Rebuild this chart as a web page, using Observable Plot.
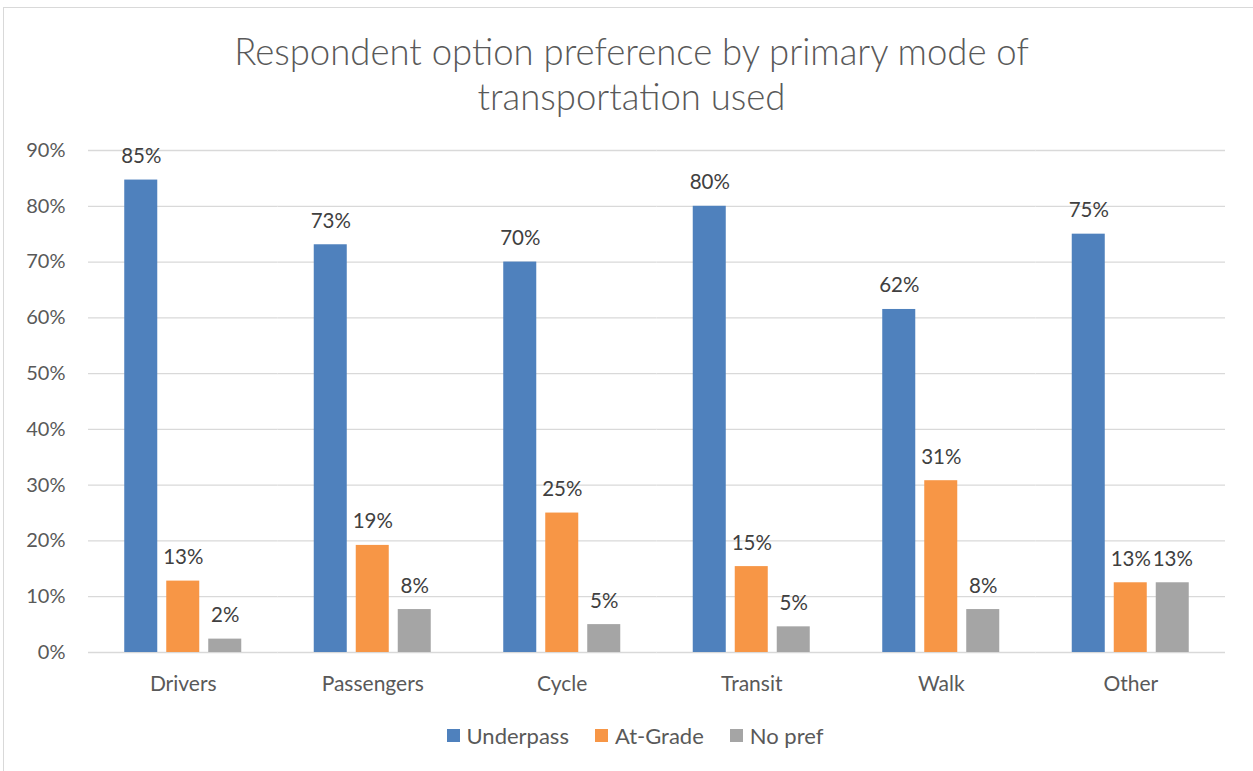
<!DOCTYPE html>
<html>
<head>
<meta charset="utf-8">
<script src="https://cdn.jsdelivr.net/npm/d3@7"></script>
<script src="https://cdn.jsdelivr.net/npm/@observablehq/plot@0.6"></script>
<style>
  html, body { margin: 0; padding: 0; background: #fff; }
  #wrap { position: relative; width: 1253px; height: 771px; overflow: hidden; font-family: Lato, "Open Sans", sans-serif; }
  #frame { position: absolute; left: 3px; top: 7px; width: 1260px; height: 780px; border: 1px solid #d9d9d9; box-sizing: border-box; }
  #title { position: absolute; left: 0; top: 29px; width: 1263px; text-align: center; font-weight: 300; font-size: 36.5px; line-height: 45px; color: #595959; }
  #chart { position: absolute; left: 0; top: 130px; }
  #legend { position: absolute; left: 0; top: 722px; width: 1270px; display: flex; justify-content: center; gap: 26px; font-size: 22px; color: #595959; }
  .item { display: flex; align-items: center; gap: 7px; }
  .sw { width: 13px; height: 13px; display: inline-block; }
</style>
</head>
<body>
<div id="wrap">
  <div id="frame"></div>
  <div id="title">Respondent option preference by primary mode of<br>transportation used</div>
  <div id="chart"></div>
  <div id="legend"></div>
</div>
<script>
const categories = ["Drivers", "Passengers", "Cycle", "Transit", "Walk", "Other"];
const series = ["Underpass", "At-Grade", "No pref"];
const underpass = [84.7, 73.1, 70.0, 80.0, 61.5, 75.0];
const atGrade = [12.8, 19.2, 25.0, 15.4, 30.8, 12.5];
const noPref = [2.4, 7.7, 5.0, 4.6, 7.7, 12.5];
const colors = ["#4f81bd", "#f79646", "#a5a5a5"];
const yTicks = [0, 10, 20, 30, 40, 50, 60, 70, 80, 90];

const values = [underpass, atGrade, noPref];
const data = [];
categories.forEach((c, i) => {
  series.forEach((s, j) => data.push({category: c, series: s, value: values[j][i]}));
});

const chart = Plot.plot({
  width: 1253,
  height: 572,
  marginLeft: 88,
  marginRight: 28,
  marginTop: 20,
  marginBottom: 50,
  style: {fontFamily: "Lato, 'Open Sans', sans-serif", fontSize: "20px", color: "#595959", background: "transparent"},
  fx: {domain: categories, padding: 0, round: false, label: null},
  x: {domain: series, paddingInner: 0.214, paddingOuter: 0.863, round: false},
  y: {domain: [0, 90], label: null},
  color: {domain: series, range: colors},
  marks: [
    Plot.ruleY(yTicks, {stroke: "#d9d9d9", strokeWidth: 1.3}),
    Plot.axisY(yTicks, {tickFormat: d => d + "%", tickSize: 0, tickPadding: 23, fontSize: 20, fill: "#595959", label: null}),
    Plot.axisFx({anchor: "bottom", tickSize: 0, tickPadding: 24, fontSize: 21, fill: "#595959", label: null}),
    Plot.axisX({ticks: [], label: null, tickSize: 0}),
    Plot.barY(data, {fx: "category", x: "series", y: "value", fill: "series"}),
    Plot.text(data, {fx: "category", x: "series", y: "value", text: d => Math.round(d.value) + "%", lineAnchor: "bottom", dy: -17, fill: "#404040", fontSize: 20.5})
  ]
});
document.getElementById("chart").appendChild(chart);

const legend = document.getElementById("legend");
series.forEach((s, j) => {
  const it = document.createElement("div");
  it.className = "item";
  it.innerHTML = `<span class="sw" style="background:${colors[j]}"></span><span>${s}</span>`;
  legend.appendChild(it);
});
</script>
</body>
</html>
